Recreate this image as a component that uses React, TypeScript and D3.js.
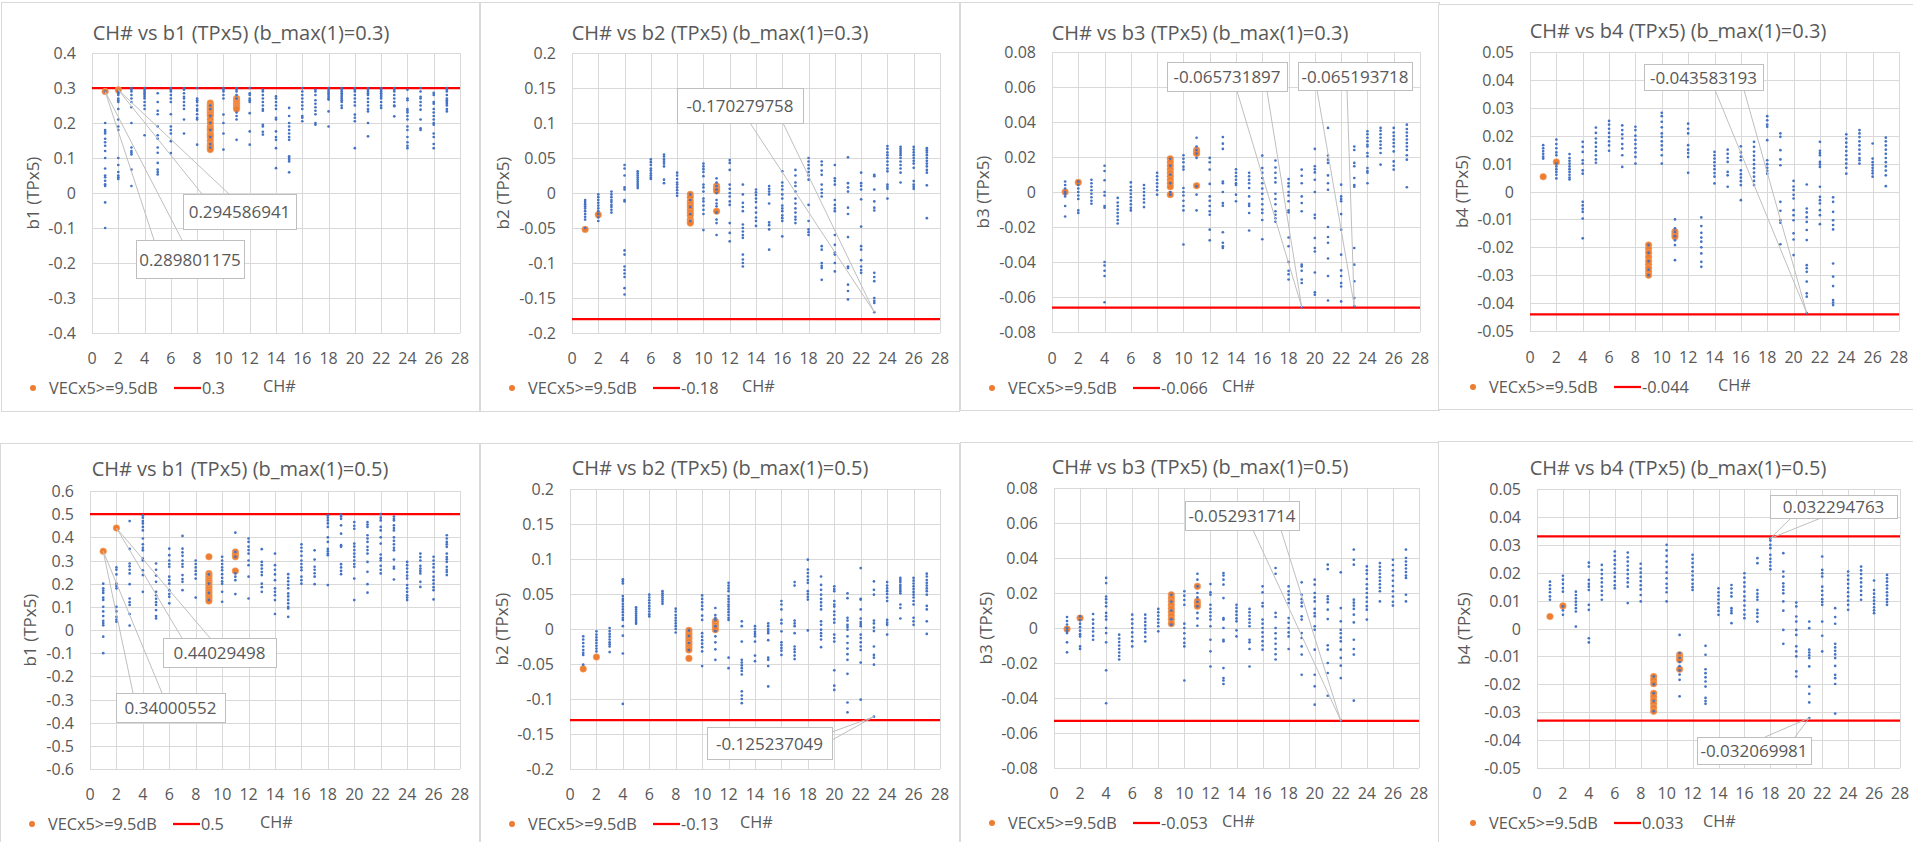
import React from 'react';
import * as d3 from 'd3';

// ---------- DATA ----------
const channels = d3.range(1, 28);
const xTickValues = d3.range(0, 29, 2);

const titles = [
  'CH# vs b1 (TPx5) (b_max(1)=0.3)', 'CH# vs b2 (TPx5) (b_max(1)=0.3)',
  'CH# vs b3 (TPx5) (b_max(1)=0.3)', 'CH# vs b4 (TPx5) (b_max(1)=0.3)',
  'CH# vs b1 (TPx5) (b_max(1)=0.5)', 'CH# vs b2 (TPx5) (b_max(1)=0.5)',
  'CH# vs b3 (TPx5) (b_max(1)=0.5)', 'CH# vs b4 (TPx5) (b_max(1)=0.5)',
];
const yLabels = ['b1 (TPx5)', 'b2 (TPx5)', 'b3 (TPx5)', 'b4 (TPx5)', 'b1 (TPx5)', 'b2 (TPx5)', 'b3 (TPx5)', 'b4 (TPx5)'];
const yDomains: [number, number, number][] = [
  [-0.4, 0.4, 0.1], [-0.2, 0.2, 0.05], [-0.08, 0.08, 0.02], [-0.05, 0.05, 0.01],
  [-0.6, 0.6, 0.1], [-0.2, 0.2, 0.05], [-0.08, 0.08, 0.02], [-0.05, 0.05, 0.01],
];
const limitValues: number[][] = [[0.3], [-0.18], [-0.066], [-0.044], [0.5], [-0.13], [-0.053], [0.033, -0.033]];
const limitLegend = ['0.3', '-0.18', '-0.066', '-0.044', '0.5', '-0.13', '-0.053', '0.033'];
const seriesName = 'VECx5>=9.5dB';

// Blue points: one array per channel (CH 1..27)
const p1Blue: number[][] = [
  [0.29,0.2,0.18,0.175,0.17,0.155,0.145,0.135,0.12,0.1,0.07,0.05,0.045,0.035,0.025,0.02,-0.027,-0.1],
  [0.29,0.285,0.28,0.27,0.265,0.26,0.24,0.21,0.19,0.18,0.1,0.08,0.06,0.05,0.045,0.04],
  [0.3,0.295,0.29,0.28,0.27,0.26,0.245,0.2,0.13,0.12,0.115,0.11,0.067,0.02],
  [0.3,0.295,0.29,0.285,0.28,0.275,0.27,0.26,0.25,0.24,0.165],
  [0.285,0.26,0.235,0.225,0.19,0.165,0.155,0.13,0.115,0.086,0.067,0.06,0.053],
  [0.3,0.295,0.29,0.28,0.27,0.26,0.225,0.19,0.18,0.17,0.148,0.114],
  [0.3,0.295,0.285,0.275,0.27,0.26,0.25,0.24,0.21,0.17],
  [0.3,0.27,0.265,0.26,0.25,0.24,0.235,0.225,0.215,0.21,0.138],
  [0.25,0.24,0.22,0.2,0.18,0.16,0.14,0.13],
  [0.3,0.295,0.29,0.28,0.27,0.224,0.2,0.17,0.124],
  [0.3,0.295,0.29,0.28,0.27,0.23,0.22,0.21,0.152],
  [0.3,0.285,0.28,0.27,0.265,0.26,0.228,0.176,0.138],
  [0.295,0.29,0.28,0.27,0.26,0.25,0.24,0.235,0.195,0.19,0.175,0.167],
  [0.276,0.27,0.26,0.25,0.24,0.215,0.21,0.176,0.16,0.152,0.128,0.071],
  [0.243,0.22,0.2,0.19,0.18,0.17,0.16,0.152,0.105,0.1,0.095,0.09,0.059],
  [0.3,0.29,0.28,0.27,0.26,0.25,0.24,0.22,0.215,0.205],
  [0.295,0.29,0.28,0.265,0.255,0.245,0.235,0.225,0.2,0.195],
  [0.3,0.295,0.29,0.285,0.28,0.275,0.27,0.267,0.233,0.19],
  [0.3,0.295,0.29,0.285,0.28,0.275,0.27,0.265,0.26,0.25,0.243],
  [0.3,0.295,0.29,0.28,0.27,0.26,0.25,0.224,0.215,0.205,0.128],
  [0.3,0.295,0.29,0.285,0.28,0.27,0.26,0.25,0.24,0.233,0.2,0.162],
  [0.3,0.295,0.29,0.285,0.28,0.275,0.27,0.26,0.25,0.243],
  [0.3,0.295,0.29,0.28,0.27,0.26,0.25,0.248,0.219],
  [0.295,0.27,0.265,0.24,0.235,0.23,0.22,0.21,0.19,0.18,0.16,0.145,0.135,0.128],
  [0.3,0.29,0.275,0.27,0.26,0.25,0.238,0.21,0.185,0.18],
  [0.286,0.28,0.26,0.255,0.24,0.23,0.22,0.21,0.2,0.195,0.17,0.16,0.14,0.128],
  [0.3,0.295,0.29,0.28,0.27,0.265,0.26,0.255,0.25,0.24,0.233],
];
const p1Orange: [number, number[]][] = [
  [1, [0.2898]], [2, [0.2946]],
  [9, [0.257,0.25,0.245,0.24,0.235,0.23,0.225,0.22,0.21,0.2,0.19,0.185,0.18,0.17,0.165,0.16,0.15,0.14,0.135,0.13,0.124]],
  [11, [0.27,0.265,0.26,0.255,0.25,0.245,0.24]],
];

const p2Blue: number[][] = [
  [-0.01,-0.013,-0.016,-0.019,-0.022,-0.026,-0.03,-0.034,-0.038,-0.05],
  [-0.002,-0.006,-0.01,-0.014,-0.018,-0.022,-0.026,-0.03,-0.035,-0.04],
  [0.002,-0.002,-0.006,-0.01,-0.013,-0.017,-0.02,-0.024,-0.028],
  [0.04,0.035,0.025,0.008,0.005,-0.01,-0.012,-0.082,-0.088,-0.105,-0.11,-0.115,-0.12,-0.136,-0.145],
  [0.031,0.028,0.025,0.022,0.019,0.016,0.013,0.01,0.007],
  [0.048,0.044,0.04,0.035,0.032,0.028,0.025,0.022,0.02],
  [0.055,0.052,0.048,0.045,0.042,0.038,0.019,0.014],
  [0.029,0.025,0.02,0.015,0.012,0.008,0.004,0,-0.004],
  [-0.002,-0.01,-0.02,-0.03,-0.04],
  [0.042,0.038,0.034,0.03,0.024,0.012,0.008,0.002,-0.008,-0.012,-0.018,-0.024,-0.03,-0.053],
  [0.021,0.015,0.01,0.005,0,-0.01,-0.015,-0.019,-0.028,-0.038,-0.043,-0.06],
  [0.047,0.043,0.033,0.012,0.006,0,-0.005,-0.012,-0.017,-0.043,-0.057,-0.069],
  [0.012,-0.002,-0.014,-0.02,-0.026,-0.045,-0.05,-0.055,-0.06,-0.064,-0.088,-0.095,-0.1,-0.105],
  [0.005,0.001,-0.003,-0.008,-0.013,-0.021,-0.028,-0.035,-0.04,-0.047],
  [0.01,0.006,0.002,-0.002,-0.015,-0.042,-0.046,-0.052,-0.081],
  [0.031,0.015,0.01,0.005,-0.002,-0.008,-0.018,-0.022,-0.026,-0.032,-0.036,-0.04,-0.062],
  [0.033,0.025,0.015,0.01,0.002,-0.008,-0.015,-0.022,-0.028,-0.034,-0.038,-0.043],
  [0.05,0.045,0.04,0.035,0.03,0.025,0.019,-0.017,-0.04,-0.052,-0.056,-0.06],
  [0.045,0.04,0.032,0.026,0.012,0.005,0,-0.005,-0.076,-0.081,-0.1,-0.104,-0.107,-0.124],
  [0.04,0.021,0.017,0.012,-0.01,-0.017,-0.022,-0.026,-0.06,-0.074,-0.085,-0.088,-0.1,-0.112],
  [0.051,0.014,0.008,0.002,-0.021,-0.03,-0.063,-0.105,-0.107,-0.131,-0.14,-0.152],
  [0.029,0.014,0.01,0.005,-0.009,-0.048,-0.076,-0.081,-0.096,-0.105,-0.11,-0.114],
  [0.026,0.024,0.005,-0.012,-0.021,-0.025,-0.114,-0.12,-0.126,-0.15,-0.154,-0.157,-0.170279758],
  [0.067,0.063,0.058,0.054,0.05,0.045,0.04,0.035,0.031,0.012,0.009,0.006,-0.008],
  [0.066,0.063,0.06,0.057,0.054,0.05,0.045,0.04,0.035,0.029,0.015],
  [0.066,0.062,0.058,0.054,0.05,0.046,0.042,0.036,0.017,0.012,0.009,0.006],
  [0.064,0.061,0.058,0.054,0.05,0.046,0.042,0.038,0.033,0.029,0.011,-0.036],
];
const p2Orange: [number, number[]][] = [
  [1, [-0.052]], [2, [-0.031]],
  [9, [-0.002,-0.006,-0.012,-0.016,-0.02,-0.024,-0.028,-0.032,-0.038,-0.041,-0.043]],
  [11, [0.01,0.007,0.005,0.003,-0.026]],
];

const p3Blue: number[][] = [
  [0.006,0.004,0.002,0,-0.001,-0.0025,-0.008,-0.014],
  [0.006,0.004,0.002,0,-0.002,-0.004,-0.0105,-0.012],
  [0.007,0.005,0.003,0.001,-0.001,-0.003,-0.005,-0.0067],
  [0.015,0.012,0.0067,0,-0.002,-0.008,-0.009,-0.04,-0.042,-0.045,-0.048,-0.063],
  [-0.0034,-0.006,-0.008,-0.01,-0.012,-0.014,-0.016,-0.018],
  [0.0055,0.003,0.001,-0.001,-0.003,-0.005,-0.007,-0.009,-0.0105],
  [0.004,0.002,0,-0.002,-0.004,-0.006,-0.0086],
  [0.011,0.009,0.007,0.005,0.003,0.001,-0.0015],
  [0.019,0.015,0.01,0.005,0,-0.0015],
  [0.021,0.019,0.017,0.0145,0.0128,0.0023,0,-0.002,-0.005,-0.008,-0.0105,-0.03],
  [0.031,0.026,0.024,0.022,0.0195,0.0032,-0.0015,-0.0105],
  [0.0195,0.017,0.0128,0.0046,-0.0025,-0.005,-0.008,-0.011,-0.013,-0.0215,-0.0276],
  [0.0314,0.0276,0.0246,0.006,0.005,0,-0.0063,-0.0078,-0.023,-0.029,-0.031,-0.032],
  [0.013,0.011,0.009,0.007,0.005,0.004,-0.0015,-0.0053],
  [0.011,0.009,0.007,0.005,0.0023,-0.0025,-0.0067,-0.008,-0.012,-0.022],
  [0.0208,0.0137,0.011,0.008,0.005,0.002,-0.001,-0.004,-0.007,-0.01,-0.012,-0.016,-0.027],
  [0.018,0.014,0.011,0.008,0.0055,-0.001,-0.004,-0.007,-0.011,-0.013,-0.015,-0.017],
  [0.0074,0.005,0.0032,0,-0.002,-0.0053,-0.0105,-0.0116,-0.026,-0.031,-0.04,-0.045,-0.047,-0.05],
  [0.0128,0.0093,0.005,-0.0025,-0.0063,-0.011,-0.0415,-0.0425,-0.045,-0.05,-0.052,-0.065731897],
  [0.0246,0.0147,0.013,0.0112,0.007,0,-0.013,-0.0149,-0.0263,-0.032,-0.034,-0.046,-0.0573,-0.0587],
  [0.0366,0.0208,0.0185,0.0166,0.0095,0.005,0.0013,-0.02,-0.0257,-0.029,-0.038,-0.048,-0.062],
  [0.0042,-0.0025,-0.004,-0.0053,-0.0126,-0.0215,-0.0358,-0.0448,-0.048,-0.052,-0.054,-0.0625],
  [0.026,0.024,0.0166,0.0147,0.008,0.004,0.003,-0.032,-0.0415,-0.051,-0.0606,-0.065193718],
  [0.0347,0.033,0.031,0.029,0.027,0.026,0.0223,0.0204,0.0137,0.012,0.011,0.005],
  [0.0366,0.035,0.033,0.031,0.029,0.027,0.025,0.0223,0.0156],
  [0.0366,0.034,0.032,0.03,0.028,0.026,0.0232,0.0175,0.015,0.0128],
  [0.0385,0.036,0.034,0.032,0.03,0.028,0.026,0.024,0.021,0.0185,0.0027],
];
const p3Orange: [number, number[]][] = [
  [1, [0]], [2, [0.0055]],
  [9, [0.019,0.017,0.015,0.013,0.011,0.009,0.007,0.005,0.003,-0.0015]],
  [11, [0.024,0.023,0.022,0.0036]],
];

const p4Blue: number[][] = [
  [0.0166,0.0155,0.0145,0.0135,0.0125,0.0118],
  [0.0186,0.017,0.0155,0.014,0.013,0.01,0.009,0.008,0.007,0.006,0.0047],
  [0.0134,0.012,0.011,0.01,0.009,0.008,0.007,0.006,0.005,0.0043],
  [0.0178,0.016,0.0142,0.0112,0.01,0.0076,0.0064,-0.0037,-0.005,-0.0062,-0.0073,-0.0097,-0.0168],
  [0.0229,0.021,0.019,0.0175,0.016,0.0145,0.013,0.0115,0.0103],
  [0.0253,0.024,0.0225,0.021,0.0195,0.018,0.0165,0.0146],
  [0.0237,0.022,0.0205,0.019,0.017,0.0154,0.013,0.0088],
  [0.0232,0.022,0.02,0.0185,0.017,0.0155,0.014,0.0124,0.01],
  [-0.0192,-0.022,-0.025,-0.028,-0.03],
  [0.0282,0.027,0.025,0.023,0.0208,0.0196,0.018,0.0165,0.015,0.013,0.01],
  [-0.01,-0.0132,-0.0145,-0.016,-0.0175,-0.0192,-0.0246],
  [0.0243,0.0225,0.0208,0.0166,0.015,0.0138,0.0124,0.0067],
  [-0.0093,-0.0124,-0.0148,-0.0165,-0.018,-0.02,-0.0222,-0.0252,-0.027],
  [0.0142,0.013,0.0118,0.0105,0.0092,0.008,0.0066,0.0053,0.0029],
  [0.015,0.0135,0.012,0.0106,0.007,0.0058,0.0017],
  [0.0162,0.014,0.0125,0.0112,0.0076,0.0062,0.005,0.0037,0.0023,-0.0031],
  [0.0178,0.016,0.0143,0.0128,0.0113,0.0098,0.0083,0.0068,0.0053,0.0038,0.0023],
  [0.027,0.0255,0.024,0.0232,0.0184,0.0112,0.0098,0.0085,0.0074,0.0064],
  [0.0208,0.0196,0.0148,0.0115,0.0094,-0.0037,-0.0069,-0.0103,-0.0112,-0.0189],
  [0.0038,0.0018,0.0005,-0.0012,-0.0025,-0.0067,-0.0085,-0.0103,-0.015,-0.0172,-0.0228],
  [0.0025,-0.0061,-0.0075,-0.0092,-0.0109,-0.0138,-0.0174,-0.0264,-0.0275,-0.0288,-0.0323,-0.0365,-0.0377,-0.043583193],
  [0.0178,0.0146,0.0138,0.013,0.0106,0.0097,0.0088,0.0017,-0.0019,-0.0031,-0.0043,-0.0067,-0.0085,-0.0117],
  [-0.0021,-0.0037,-0.0073,-0.0103,-0.012,-0.0136,-0.0258,-0.0305,-0.0339,-0.0389,-0.0398,-0.0407],
  [0.0205,0.019,0.0175,0.016,0.0145,0.013,0.0115,0.01,0.0085,0.0064],
  [0.022,0.0208,0.0195,0.018,0.0165,0.015,0.0135,0.012,0.0112,0.01],
  [0.0172,0.0118,0.0105,0.0095,0.0085,0.0075,0.0065,0.0053],
  [0.0193,0.018,0.0165,0.015,0.0135,0.012,0.0105,0.009,0.0075,0.0058,0.0019],
];
const p4Orange: [number, number[]][] = [
  [1, [0.0053]], [2, [0.0106]],
  [9, [-0.0192,-0.0205,-0.022,-0.0235,-0.025,-0.0262,-0.0275,-0.0288,-0.03]],
  [11, [-0.0144,-0.0153,-0.0162]],
];

const p5Blue: number[][] = [
  [0.2,0.18,0.17,0.16,0.14,0.13,0.1,0.08,0.06,0.04,0.03,0.02,-0.029,-0.1],
  [0.27,0.26,0.24,0.2,0.19,0.18,0.1,0.08,0.057,0.045,0.036],
  [0.47,0.35,0.287,0.275,0.26,0.244,0.198,0.136,0.12,0.108,0.069,0.019],
  [0.495,0.485,0.47,0.46,0.445,0.43,0.395,0.37,0.355,0.344,0.308,0.3,0.258,0.237,0.165],
  [0.287,0.26,0.235,0.208,0.165,0.15,0.135,0.12,0.108,0.086,0.06,0.05],
  [0.351,0.323,0.3,0.285,0.273,0.23,0.215,0.2,0.172,0.155,0.143,0.115],
  [0.406,0.351,0.335,0.32,0.3,0.285,0.273,0.237,0.22,0.208,0.172],
  [0.3,0.285,0.27,0.255,0.24,0.222,0.14],
  [0.24,0.2,0.16,0.13],
  [0.316,0.3,0.285,0.27,0.258,0.241,0.225,0.21,0.2,0.165,0.122],
  [0.42,0.337,0.316,0.244,0.23,0.215,0.155],
  [0.395,0.38,0.36,0.345,0.33,0.3,0.28,0.23,0.136],
  [0.349,0.294,0.28,0.265,0.25,0.237,0.2,0.185,0.165],
  [0.33,0.28,0.26,0.24,0.215,0.18,0.165,0.15,0.129,0.069],
  [0.241,0.225,0.21,0.195,0.18,0.158,0.145,0.13,0.115,0.1,0.093,0.057],
  [0.37,0.355,0.34,0.32,0.3,0.285,0.27,0.258,0.23,0.215,0.2],
  [0.344,0.304,0.273,0.26,0.245,0.23,0.198],
  [0.495,0.485,0.473,0.46,0.445,0.4,0.38,0.35,0.34,0.33,0.323,0.194],
  [0.498,0.49,0.48,0.452,0.416,0.366,0.359,0.284,0.27,0.255,0.241],
  [0.466,0.45,0.437,0.373,0.36,0.345,0.33,0.316,0.3,0.285,0.273,0.222,0.129],
  [0.466,0.455,0.445,0.409,0.395,0.38,0.359,0.345,0.33,0.294,0.251,0.198,0.161],
  [0.5,0.485,0.473,0.445,0.43,0.4,0.373,0.326,0.31,0.3,0.277,0.26,0.244],
  [0.49,0.48,0.473,0.452,0.44,0.43,0.4,0.385,0.37,0.355,0.344,0.304,0.273,0.265,0.218],
  [0.294,0.28,0.265,0.25,0.235,0.222,0.194,0.18,0.165,0.15,0.14,0.129],
  [0.33,0.315,0.3,0.277,0.265,0.255,0.244,0.208,0.186],
  [0.316,0.3,0.285,0.27,0.251,0.23,0.215,0.2,0.185,0.172,0.132],
  [0.409,0.395,0.38,0.37,0.359,0.33,0.315,0.305,0.294,0.273,0.26,0.25,0.237],
];
const p5Orange: [number, number[]][] = [
  [1, [0.34000552]], [2, [0.44029498]],
  [9, [0.316,0.244,0.235,0.225,0.215,0.205,0.195,0.185,0.175,0.165,0.155,0.145,0.135,0.125]],
  [11, [0.337,0.327,0.316,0.255]],
];

const p6Blue: number[][] = [
  [-0.0105,-0.015,-0.02,-0.025,-0.03,-0.034,-0.037,-0.051],
  [-0.0033,-0.008,-0.012,-0.016,-0.02,-0.024,-0.028,-0.032],
  [0.0014,-0.003,-0.007,-0.011,-0.015,-0.019,-0.022,-0.025,-0.033],
  [0.071,0.068,0.065,0.047,0.043,0.04,0.036,0.032,0.028,0.024,0.02,0.016,0.013,0.004,-0.0095,-0.035,-0.107],
  [0.031,0.028,0.025,0.022,0.019,0.016,0.013,0.01,0.0076],
  [0.049,0.045,0.041,0.037,0.033,0.029,0.025,0.021,0.018],
  [0.054,0.051,0.048,0.045,0.042,0.039,0.036],
  [0.029,0.025,0.02,0.016,0.012,0.008,0.004,0,-0.005],
  [-0.002,-0.01,-0.02,-0.03],
  [0.048,0.043,0.038,0.033,0.028,0.019,0.013,-0.006,-0.011,-0.016,-0.021,-0.026,-0.032,-0.053],
  [0.03,0.02,0.016,0.013,0.004,-0.003,-0.0105,-0.019,-0.029,-0.044],
  [0.066,0.062,0.058,0.054,0.047,0.043,0.039,0.035,0.032,0.028,0.024,0.02,0.016,0.013,-0.041,-0.056],
  [0.011,0.004,-0.018,-0.044,-0.048,-0.052,-0.056,-0.06,-0.065,-0.089,-0.095,-0.1,-0.106],
  [0.004,0,-0.004,-0.007,-0.0105,-0.018,-0.038,-0.046],
  [0.008,0.004,0,-0.003,-0.006,-0.016,-0.041,-0.044,-0.053,-0.082],
  [0.04,0.035,0.028,0.013,0.008,-0.0033,-0.019,-0.023,-0.027,-0.031,-0.037],
  [0.067,0.062,0.012,0.008,0.004,-0.006,-0.025,-0.029,-0.033,-0.038,-0.043],
  [0.099,0.085,0.08,0.075,0.07,0.066,0.054,0.05,0.046,0.042,-0.002],
  [0.075,0.063,0.056,0.049,0.043,0.038,0.033,0.028,0.011,0.006,-0.001,-0.006,-0.01,-0.015,-0.026],
  [0.061,0.057,0.054,0.04,0.035,0.032,0.025,0.02,0.014,0.009,-0.008,-0.013,-0.018,-0.059,-0.081,-0.087],
  [0.051,0.044,0.016,0.012,0.006,0.003,-0.001,-0.0105,-0.02,-0.028,-0.036,-0.044,-0.064,-0.105,-0.119],
  [0.087,0.043,0.042,0.028,0.015,0.01,0.007,0.004,-0.008,-0.013,-0.019,-0.025,-0.03,-0.048,-0.101],
  [0.068,0.056,0.049,0.012,0.008,0.002,-0.003,-0.025,-0.037,-0.041,-0.051,-0.125237049],
  [0.067,0.062,0.058,0.054,0.05,0.045,0.04,0.013,0.009,0.006,-0.008],
  [0.073,0.07,0.067,0.063,0.06,0.057,0.054,0.051,0.035,0.03,0.015],
  [0.073,0.069,0.065,0.061,0.057,0.053,0.049,0.045,0.04,0.035,0.016,0.011,0.006],
  [0.079,0.075,0.07,0.066,0.062,0.058,0.054,0.049,0.033,0.028,0.011,-0.007],
];
const p6Orange: [number, number[]][] = [
  [1, [-0.057]], [2, [-0.04]],
  [9, [-0.002,-0.006,-0.01,-0.014,-0.018,-0.022,-0.026,-0.03,-0.042]],
  [11, [0.011,0.008,0.005,0.002,-0.001]],
];

const p7Blue: number[][] = [
  [0.0063,0.004,0.002,0,-0.0015,-0.0029,-0.0082,-0.0139],
  [0.0067,0.0045,0.0025,0.0005,-0.0015,-0.0035,-0.0048,-0.0105,-0.012],
  [0.008,0.0048,0.0025,0,-0.002,-0.0045,-0.0067],
  [0.0286,0.0257,0.018,0.0165,0.0145,0.0124,0.0086,0.0067,0.0048,0,-0.0029,-0.0082,-0.0242,-0.043],
  [-0.0038,-0.006,-0.008,-0.01,-0.012,-0.014,-0.016,-0.018],
  [0.0076,0.005,0.0025,0,-0.0025,-0.005,-0.0075,-0.0105],
  [0.0076,0.0055,0.0035,0.0015,-0.0005,-0.0025,-0.005,-0.0076],
  [0.0109,0.009,0.007,0.005,0.003,0.001,-0.0019],
  [0.019,0.015,0.01,0.005,0.0019],
  [0.021,0.0185,0.016,0.0133,0.0025,0,-0.003,-0.006,-0.0085,-0.0105,-0.03],
  [0.031,0.0276,0.0238,0.02,0.0175,0.015,0.0124,0.0086,0.0055,0.0013],
  [0.0251,0.0204,0.019,0.0133,0.011,0.009,0.0068,0.0048,0.001,-0.0067,-0.0133,-0.022],
  [0.0314,0.03,0.0276,0.0248,0.0171,0.0057,0.0048,0,-0.0067,-0.0076,-0.0229,-0.0286,-0.03,-0.032],
  [0.0133,0.0115,0.0095,0.0075,0.0055,0.0038,-0.0013,-0.0048],
  [0.0109,0.009,0.007,0.005,0.003,0.001,-0.0067,-0.0082,-0.012,-0.022],
  [0.0238,0.0204,0.0143,0.0124,0.0048,0.0025,0,-0.0025,-0.005,-0.0075,-0.01,-0.0124],
  [0.0343,0.031,0.0086,0.0063,0,-0.003,-0.006,-0.009,-0.012,-0.015,-0.018],
  [0.0238,0.021,0.019,0.0165,0.0143,0.0057,0.003,0,-0.0025,-0.0048,-0.012],
  [0.0261,0.019,0.0165,0.0145,0.0124,0.0067,0.0048,-0.0029,-0.0057,-0.0105,-0.0152,-0.0267],
  [0.0276,0.0248,0.02,0.0175,0.0152,0.0109,0.0085,0.0067,0.001,-0.001,-0.0124,-0.0267,-0.0333,-0.0438],
  [0.0362,0.0337,0.0181,0.0165,0.0147,0.0105,0.0051,-0.0099,-0.0124,-0.02,-0.0257,-0.0387],
  [0.0318,0.0114,0.0038,-0.001,-0.003,-0.0055,-0.0076,-0.0124,-0.0171,-0.0215,-0.0286,-0.052931714],
  [0.0448,0.039,0.0362,0.0162,0.0145,0.0128,0.0109,0.0076,0.0032,-0.0067,-0.012,-0.0152,-0.0415],
  [0.0352,0.033,0.031,0.028,0.025,0.0225,0.02,0.0175,0.015,0.0125,0.0105,0.0048],
  [0.0371,0.035,0.033,0.031,0.029,0.027,0.025,0.023,0.021,0.0152],
  [0.039,0.036,0.033,0.03,0.027,0.024,0.021,0.018,0.015,0.0128],
  [0.0448,0.04,0.038,0.036,0.034,0.032,0.03,0.0286,0.019,0.0152],
];
const p7Orange: [number, number[]][] = [
  [1, [-0.0006]], [2, [0.0057]],
  [9, [0.019,0.017,0.015,0.013,0.011,0.009,0.007,0.005,0.0025]],
  [11, [0.0238,0.0152,0.0138,0.0124]],
];

const p8Blue: number[][] = [
  [0.0168,0.0155,0.0142,0.013,0.0115,0.0103],
  [0.0189,0.0175,0.016,0.0145,0.0132,0.0079,0.0065,0.0049],
  [0.0132,0.012,0.0108,0.0096,0.0085,0.0073,0.0061,0.0007],
  [0.0236,0.0222,0.0174,0.016,0.015,0.0138,0.0085,0.0067,-0.0035,-0.005],
  [0.0228,0.021,0.0195,0.018,0.0165,0.015,0.0135,0.012,0.0103],
  [0.0276,0.026,0.0245,0.023,0.0215,0.02,0.0185,0.017,0.0155,0.0144],
  [0.0272,0.0255,0.024,0.0225,0.021,0.0195,0.018,0.0165,0.015,0.0091],
  [0.0232,0.0215,0.02,0.0185,0.017,0.0155,0.014,0.012,0.0097],
  [-0.0172,-0.02,-0.0232,-0.026,-0.0297],
  [0.03,0.028,0.026,0.024,0.022,0.02,0.018,0.016,0.0145,0.013,0.0097],
  [-0.0023,-0.0088,-0.0105,-0.012,-0.0135,-0.015,-0.0165,-0.0184,-0.0243],
  [0.0264,0.025,0.0235,0.022,0.0205,0.019,0.0175,0.016,0.0148,0.0138],
  [-0.0062,-0.0094,-0.0146,-0.016,-0.0175,-0.019,-0.0208,-0.0249,-0.026,-0.027],
  [0.0144,0.013,0.0117,0.0104,0.009,0.0076,0.0063,0.0049],
  [0.0156,0.0143,0.0128,0.0115,0.0073,0.0064,0.0055,0.0019],
  [0.0198,0.0182,0.0165,0.015,0.0132,0.0115,0.01,0.0082,0.0066,0.005,0.0037],
  [0.0252,0.0234,0.0138,0.0125,0.0113,0.0103,0.0067,0.0055,0.0042,0.0025],
  [0.032294763,0.0315,0.03,0.0288,0.0264,0.025,0.0238,0.0225,0.0212],
  [0.027,0.0204,0.0186,0.0162,0.015,0.0138,0.0126,0.0097,0.0064,-0.0005,-0.0055],
  [0.0093,0.0079,0.0043,0.0025,-0.0005,-0.0023,-0.0064,-0.0082,-0.01,-0.0154,-0.0172],
  [0.0025,0.0001,-0.0076,-0.0086,-0.0096,-0.0106,-0.0136,-0.0208,-0.0234,-0.0265,-0.032069981],
  [0.0258,0.021,0.0198,0.0186,0.015,0.0135,0.012,0.0105,0.0095,0.0085,0.0025,-0.0026,-0.0082],
  [0.0073,0.0041,0.0017,-0.0055,-0.0068,-0.008,-0.0093,-0.0106,-0.0134,-0.0166,-0.0178,-0.0199,-0.0305],
  [0.0204,0.019,0.0175,0.016,0.0145,0.013,0.0115,0.01,0.0085,0.0067],
  [0.0222,0.0208,0.0195,0.018,0.0165,0.015,0.0135,0.012,0.0103],
  [0.0172,0.0138,0.0125,0.0112,0.01,0.0088,0.0076,0.0065,0.0055],
  [0.0192,0.018,0.0168,0.0155,0.0143,0.013,0.0118,0.0105,0.0095,0.0085],
];
const p8Orange: [number, number[]][] = [
  [1, [0.0043]], [2, [0.0081]],
  [9, [-0.0172,-0.0185,-0.0198,-0.0232,-0.0245,-0.0258,-0.027,-0.0283,-0.0297]],
  [11, [-0.0094,-0.0103,-0.0112,-0.0146]],
];

// Data callouts: [channel, value]
const p1Callouts: [number, number][] = [[2, 0.294586941], [1, 0.289801175]];
const p2Callouts: [number, number][] = [[23, -0.170279758]];
const p3Callouts: [number, number][] = [[19, -0.065731897], [23, -0.065193718]];
const p4Callouts: [number, number][] = [[21, -0.043583193]];
const p5Callouts: [number, number][] = [[2, 0.44029498], [1, 0.34000552]];
const p6Callouts: [number, number][] = [[23, -0.125237049]];
const p7Callouts: [number, number][] = [[22, -0.052931714]];
const p8Callouts: [number, number][] = [[18, 0.032294763], [21, -0.032069981]];

const blueSets = [p1Blue, p2Blue, p3Blue, p4Blue, p5Blue, p6Blue, p7Blue, p8Blue];
const orangeSets = [p1Orange, p2Orange, p3Orange, p4Orange, p5Orange, p6Orange, p7Orange, p8Orange];
const calloutSets = [p1Callouts, p2Callouts, p3Callouts, p4Callouts, p5Callouts, p6Callouts, p7Callouts, p8Callouts];

// ---------- LAYOUT ----------
type Box = { x: number; y: number; w: number; h: number; a: [number, number]; b: [number, number] };
type Frame = {
  px: number; py: number; pw: number; ph: number;
  l: number; t: number; r: number; b: number;
  titleY: number; yTitleX: number; legendY: number; legDx: number; chX: number; xTickY: number;
  boxes: Box[];
};
const frames: Frame[] = [
  { px: 1, py: 2, pw: 478, ph: 409, l: 92, t: 53, r: 460, b: 333, titleY: 32, yTitleX: 32, legendY: 388, legDx: 0, chX: 262, xTickY: 358,
    boxes: [{ x: 183, y: 194, w: 113, h: 35, a: [202, 194], b: [229, 194] }, { x: 136, y: 240, w: 108, h: 38, a: [154, 240], b: [182, 240] }] },
  { px: 480, py: 2, pw: 479, ph: 409, l: 572, t: 53, r: 940, b: 333, titleY: 32, yTitleX: 502, legendY: 388, legDx: 0, chX: 262, xTickY: 358,
    boxes: [{ x: 677, y: 88, w: 126, h: 35, a: [750, 123], b: [783, 123] }] },
  { px: 960, py: 2, pw: 479, ph: 408, l: 1052, t: 52, r: 1420, b: 332, titleY: 32, yTitleX: 982, legendY: 388, legDx: 0, chX: 262, xTickY: 358,
    boxes: [{ x: 1167, y: 62, w: 120, h: 29, a: [1237, 91], b: [1267, 91] }, { x: 1298, y: 62, w: 114, h: 28, a: [1317, 90], b: [1347, 90] }] },
  { px: 1438, py: 4, pw: 480, ph: 405, l: 1530, t: 52, r: 1899, b: 331, titleY: 30, yTitleX: 1461, legendY: 387, legDx: 3, chX: 280, xTickY: 357,
    boxes: [{ x: 1644, y: 64, w: 119, h: 26, a: [1715, 90], b: [1744, 90] }] },
  { px: 0, py: 443, pw: 479, ph: 410, l: 90, t: 491, r: 460, b: 769, titleY: 468, yTitleX: 29, legendY: 824, legDx: 0, chX: 260, xTickY: 794,
    boxes: [{ x: 163, y: 638, w: 113, h: 29, a: [182, 638], b: [210, 638] }, { x: 116, y: 693, w: 109, h: 29, a: [133, 693], b: [162, 693] }] },
  { px: 480, py: 443, pw: 479, ph: 410, l: 570, t: 489, r: 940, b: 769, titleY: 467, yTitleX: 501, legendY: 824, legDx: 0, chX: 260, xTickY: 794,
    boxes: [{ x: 707, y: 727, w: 125, h: 32, a: [832, 732], b: [832, 740] }] },
  { px: 960, py: 442, pw: 479, ph: 410, l: 1054, t: 488, r: 1419, b: 768, titleY: 466, yTitleX: 985, legendY: 823, legDx: 0, chX: 262, xTickY: 793,
    boxes: [{ x: 1185, y: 501, w: 114, h: 29, a: [1253, 530], b: [1281, 530] }] },
  { px: 1438, py: 441, pw: 480, ph: 410, l: 1537, t: 489, r: 1900, b: 768, titleY: 467, yTitleX: 1463, legendY: 823, legDx: 3, chX: 265, xTickY: 793,
    boxes: [{ x: 1770, y: 495, w: 127, h: 23, a: [1791, 518], b: [1821, 518] }, { x: 1697, y: 737, w: 114, h: 27, a: [1765, 737], b: [1795, 737] }] },
];

const FONT = "'Open Sans', 'Segoe UI', sans-serif";
const TEXT = '#595959';
const GRID = '#d9d9d9';
const BLUE = '#4472C4';
const ORANGE = '#ED7D31';
const RED = '#FF0000';
const TITLE_SIZE = 20;
const TICK_SIZE = 16;
const LEGEND_SIZE = 16.3;
const LABEL_SIZE = 17;
const AXIS_TITLE_SIZE = 17;

const fmt = (v: number) => String(+v.toFixed(6));

function ChartPanel({ i }: { i: number }) {
  const f = frames[i];
  const [y0, y1, step] = yDomains[i];
  const x = d3.scaleLinear().domain([0, 28]).range([f.l, f.r]);
  const y = d3.scaleLinear().domain([y0, y1]).range([f.b, f.t]);
  const n = Math.round((y1 - y0) / step);
  const yTicks = d3.range(0, n + 1).map((k) => +(y0 + k * step).toFixed(6));
  const blue = blueSets[i];
  const orange = orangeSets[i];
  const callouts = calloutSets[i];
  const lx = f.px + f.legDx;
  return (
    <g>
      <rect x={f.px + 0.5} y={f.py + 0.5} width={f.pw} height={f.ph} fill="#fff" stroke={GRID} strokeWidth={1} />
      <text x={f.px + 240} y={f.titleY} textAnchor="middle" dominantBaseline="central" fontSize={TITLE_SIZE} fill={TEXT}>{titles[i]}</text>
      {yTicks.map((t) => (
        <line key={'gy' + t} x1={f.l} x2={f.r} y1={Math.round(y(t)) + 0.5} y2={Math.round(y(t)) + 0.5} stroke={GRID} strokeWidth={1} />
      ))}
      {xTickValues.map((t) => (
        <line key={'gx' + t} x1={Math.round(x(t)) + 0.5} x2={Math.round(x(t)) + 0.5} y1={f.t} y2={f.b} stroke={GRID} strokeWidth={1} />
      ))}
      {yTicks.map((t) => (
        <text key={'ty' + t} x={f.l - 16} y={y(t)} textAnchor="end" dominantBaseline="central" fontSize={TICK_SIZE} fill={TEXT}>{fmt(t)}</text>
      ))}
      {xTickValues.map((t) => (
        <text key={'tx' + t} x={x(t)} y={f.xTickY} textAnchor="middle" dominantBaseline="central" fontSize={TICK_SIZE} fill={TEXT}>{t}</text>
      ))}
      <text transform={`translate(${f.yTitleX},${(f.t + f.b) / 2}) rotate(-90)`} textAnchor="middle" dominantBaseline="central" fontSize={AXIS_TITLE_SIZE} fill={TEXT}>{yLabels[i]}</text>
      {limitValues[i].map((v, k) => (
        <line key={'lim' + k} x1={f.l} x2={f.r} y1={y(v)} y2={y(v)} stroke={RED} strokeWidth={2.25} />
      ))}
      {orange.map(([ch, vals]) => vals.map((v, k) => (
        <circle key={'o' + ch + '-' + k} cx={x(ch)} cy={y(v)} r={3.3} fill={ORANGE} stroke="#f4a46b" strokeWidth={0.6} />
      )))}
      {blue.map((vals, ci) => vals.map((v, k) => (
        <circle key={'b' + ci + '-' + k} cx={x(channels[ci])} cy={y(v)} r={1.35} fill={BLUE} />
      )))}
      {callouts.map(([ch, v], k) => {
        const bx = f.boxes[k];
        const pt: [number, number] = [x(ch), y(v)];
        return (
          <g key={'c' + k}>
            <polyline points={`${bx.a[0]},${bx.a[1]} ${pt[0]},${pt[1]} ${bx.b[0]},${bx.b[1]}`} fill="none" stroke="#bfbfbf" strokeWidth={1} />
            <rect x={bx.x + 0.5} y={bx.y + 0.5} width={bx.w} height={bx.h} fill="#fff" stroke="#bfbfbf" strokeWidth={1} />
            <text x={bx.x + bx.w / 2} y={bx.y + bx.h / 2} textAnchor="middle" dominantBaseline="central" fontSize={LABEL_SIZE} fill={TEXT}>{String(v)}</text>
          </g>
        );
      })}
      <circle cx={lx + 32} cy={f.legendY} r={3} fill={ORANGE} />
      <text x={lx + 48} y={f.legendY} dominantBaseline="central" fontSize={LEGEND_SIZE} fill={TEXT}>{seriesName}</text>
      <line x1={lx + 173} x2={lx + 200} y1={f.legendY} y2={f.legendY} stroke={RED} strokeWidth={2.25} />
      <text x={lx + 201} y={f.legendY} dominantBaseline="central" fontSize={LEGEND_SIZE} fill={TEXT}>{limitLegend[i]}</text>
      <text x={f.px + f.chX} y={f.legendY - 2} dominantBaseline="central" fontSize={LEGEND_SIZE} fill={TEXT}>CH#</text>
    </g>
  );
}

export default function App() {
  return (
    <div style={{ position: 'absolute', left: 0, top: 0 }}>
      <svg width={1913} height={842} style={{ display: 'block', fontFamily: FONT }}>
        <rect x={0} y={0} width={1913} height={842} fill="#fff" />
        {frames.map((_, i) => <ChartPanel key={i} i={i} />)}
      </svg>
    </div>
  );
}
